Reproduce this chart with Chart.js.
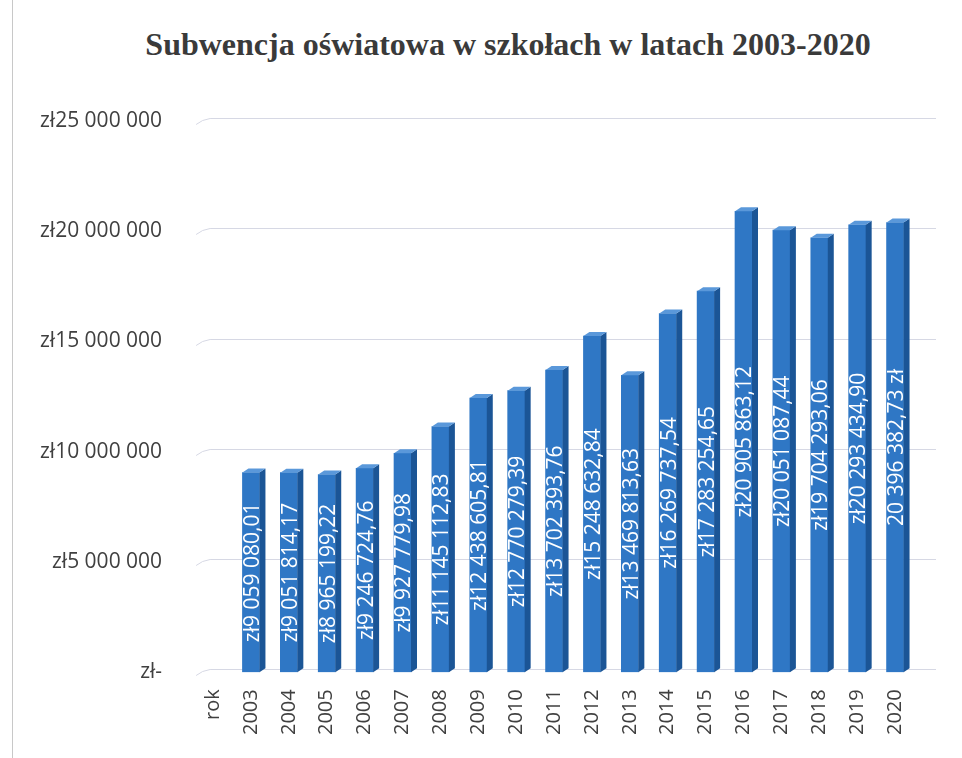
<!DOCTYPE html>
<html><head><meta charset="utf-8">
<script src="https://cdn.jsdelivr.net/npm/chart.js@4.4.1/dist/chart.umd.min.js"></script>
<style>
html,body{margin:0;padding:0;background:#fff;}
#wrap{position:relative;width:962px;height:758px;}
#title{position:absolute;left:0;width:1016px;top:26px;text-align:center;font-family:"Liberation Serif",serif;font-weight:bold;font-size:32px;color:#3a3a3a;}
#edge{position:absolute;left:12px;top:0;width:1px;height:758px;background:#c8c8c8;}
canvas{position:absolute;left:0;top:0;}
</style></head>
<body><div id="wrap"><div id="edge"></div><div id="title">Subwencja oświatowa w szkołach w latach 2003-2020</div><canvas id="c" width="962" height="758"></canvas></div>
<script>
const categories = ['rok','2003','2004','2005','2006','2007','2008','2009','2010','2011','2012','2013','2014','2015','2016','2017','2018','2019','2020'];
const values = [null, 9059080.01, 9051814.17, 8965199.22, 9246724.76, 9927779.98, 11145112.83, 12438605.81, 12770279.39, 13702393.76, 15248632.84, 13469813.63, 16269737.54, 17283254.65, 20905863.12, 20051087.44, 19704293.06, 20293434.90, 20396382.73];
const currencyAfterYears = ['2020'];
const yTickMax = 25000000;
const yTickStep = 5000000;

function group(s){ return s.replace(/\B(?=(\d{3})+(?!\d))/g,' '); }
function fmtMoney(v){ const p=v.toFixed(2).split('.'); return group(p[0])+','+p[1]; }
function labelFor(i){
  const v = values[i]; if (v==null) return '';
  return currencyAfterYears.includes(categories[i]) ? fmtMoney(v)+' zł' : 'zł'+fmtMoney(v);
}

const FRONT='#2f77c5', SIDE='#1b5596', TOP='#5a98da';
const DX=6, DY=4;

const plugin3d = {
  id:'bars3d',
  beforeDatasetsDraw(chart){
    const ctx=chart.ctx, ys=chart.scales.y, a=chart.chartArea;
    ctx.save();
    ctx.strokeStyle='#d6d8e4'; ctx.lineWidth=1;
    ys.ticks.forEach(t=>{
      const y=Math.round(ys.getPixelForValue(t.value))+0.5;
      ctx.beginPath(); ctx.moveTo(a.left+2,y+3); ctx.quadraticCurveTo(a.left+8,y-2,a.left+16,y-3); ctx.lineTo(a.right+22,y-3); ctx.stroke();
    });
    ctx.restore();
  },
  afterDatasetsDraw(chart){
    const ctx=chart.ctx; const meta=chart.getDatasetMeta(0);
    ctx.save();
    meta.data.forEach((b,i)=>{
      if (values[i]==null) return;
      const p=b.getProps(['x','y','base','width'],true);
      const l=p.x-p.width/2, r=p.x+p.width/2;
      ctx.fillStyle=SIDE;
      ctx.beginPath(); ctx.moveTo(r,p.y); ctx.lineTo(r+DX,p.y-DY); ctx.lineTo(r+DX,p.base-DY); ctx.lineTo(r,p.base); ctx.closePath(); ctx.fill();
      ctx.fillStyle=TOP;
      ctx.beginPath(); ctx.moveTo(l,p.y); ctx.lineTo(r,p.y); ctx.lineTo(r+DX,p.y-DY); ctx.lineTo(l+DX,p.y-DY); ctx.closePath(); ctx.fill();
      ctx.save();
      ctx.translate(p.x+1, (p.y+p.base)/2);
      ctx.rotate(-Math.PI/2);
      ctx.fillStyle='#ffffff';
      ctx.font='21px "Open Sans"';
      ctx.textAlign='center'; ctx.textBaseline='middle';
      ctx.fillText(labelFor(i),0,1);
      ctx.restore();
    });
    ctx.restore();
  }
};

new Chart(document.getElementById('c'),{
  type:'bar',
  data:{labels:categories,datasets:[{data:values,backgroundColor:FRONT,borderWidth:0,barThickness:17}]},
  options:{
    responsive:false,animation:false,
    layout:{padding:{left:16,right:48,top:121,bottom:14}},
    plugins:{legend:{display:false},title:{display:false},tooltip:{enabled:false}},
    scales:{
      x:{grid:{display:false},border:{display:false},
         ticks:{color:'#404040',font:{family:'"Open Sans"',size:20},minRotation:90,maxRotation:90,padding:9}},
      y:{min:0,max:yTickMax,grid:{display:false},border:{display:false},
         ticks:{stepSize:yTickStep,color:'#404040',font:{family:'"Open Sans"',size:21},padding:24,
           callback:v=> v===0 ? 'zł-' : 'zł'+group(String(v))}}
    }
  },
  plugins:[plugin3d]
});
</script></body></html>
